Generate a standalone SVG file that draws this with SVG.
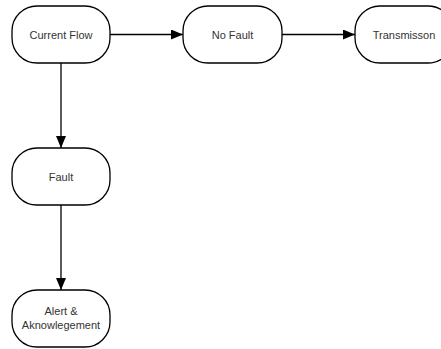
<svg xmlns="http://www.w3.org/2000/svg" width="441" height="349" viewBox="0 0 441 349">
<style>
.node rect{fill:#fff;stroke:#000;stroke-width:1.3}
.node text{font-family:"Liberation Sans",Arial,sans-serif;font-size:11px;fill:#333;text-anchor:middle}
.edges line{stroke:#000;stroke-width:1.3}
</style>
<defs>
<marker id="arr" markerWidth="12" markerHeight="10" refX="12" refY="5" orient="auto" markerUnits="userSpaceOnUse">
<path d="M0,0 L12,5 L0,10 Z" fill="#000"/>
</marker>
</defs>
<rect width="441" height="349" fill="#fff"/>
<g class="edges">
<line x1="110" y1="34.5" x2="183" y2="34.5" marker-end="url(#arr)"/>
<line x1="282" y1="34.5" x2="355" y2="34.5" marker-end="url(#arr)"/>
<line x1="61" y1="63" x2="61" y2="148" marker-end="url(#arr)"/>
<line x1="61" y1="205" x2="61" y2="290" marker-end="url(#arr)"/>
</g>
<g id="current-flow" class="node"><rect x="12" y="6" width="98" height="57" rx="25" ry="25"/><text x="61" y="38.5">Current Flow</text></g>
<g id="no-fault" class="node"><rect x="183" y="6" width="99" height="57" rx="25" ry="25"/><text x="232.5" y="38.5">No Fault</text></g>
<g id="transmisson" class="node"><rect x="355" y="6" width="98" height="57" rx="25" ry="25"/><text x="404" y="38.5">Transmisson</text></g>
<g id="fault" class="node"><rect x="12" y="148" width="98" height="57" rx="25" ry="25"/><text x="61" y="180.5">Fault</text></g>
<g id="alert" class="node"><rect x="12" y="290" width="98" height="57" rx="25" ry="25"/><text x="61" y="314.5">Alert &amp;</text><text x="61" y="329">Aknowlegement</text></g>
</svg>
